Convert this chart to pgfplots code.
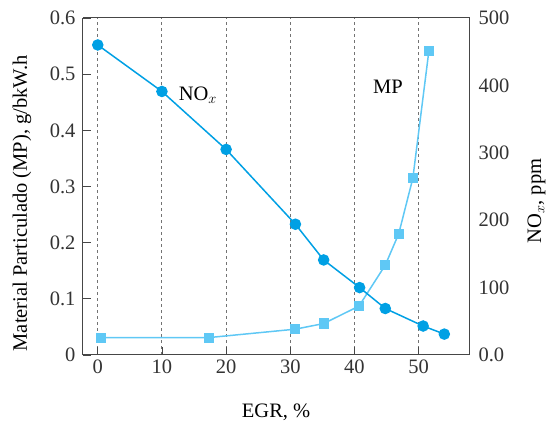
\documentclass[border=0pt]{standalone}
\usepackage{pgfplots}
\pgfplotsset{compat=1.18}
\usepackage{fontspec}
\setmainfont{Liberation Serif}
\definecolor{noxblue}{RGB}{0,160,228}
\definecolor{mpblue}{RGB}{95,200,245}
\definecolor{axgray}{RGB}{70,70,70}
\newcommand\bigfont{\fontsize{20.5}{24}\selectfont}
\begin{document}
\begin{tikzpicture}
% page = 550 x 425, axis box 387 x 337 at (83,18) from top-left
\useasboundingbox (-83pt,-70pt) rectangle (467pt,355pt);
\pgfplotsset{
  every axis/.append style={
    scale only axis, width=387pt, height=337pt,
    xmin=-2.3, xmax=58,
    axis line style={axgray, line width=1pt},
    tick style={axgray, line width=0.8pt},
    tick align=inside,
    major tick length=8pt,
    /pgf/number format/assume math mode=true,
    tick label style={font=\bigfont, text=black!80},
    label style={font=\bigfont},
  },
}
\begin{axis}[
  at={(0,0)},
  axis y line*=left, axis x line*=bottom,
  ymin=0, ymax=0.6,
  ytick={0,0.1,0.2,0.3,0.4,0.5,0.6},
  yticklabels={0,0.1,0.2,0.3,0.4,0.5,0.6},
  xtick={0,10,20,30,40,50},
  xmajorgrids=true,
  grid style={dash pattern=on 3pt off 3pt, black!55, line width=1.1pt},
  yticklabel style={anchor=east, xshift=-4pt},
  xticklabel style={anchor=center, yshift=-12pt},
  xlabel={EGR, \%},
  ylabel={Material Particulado (MP), g/bkW.h},
  xlabel style={at={(axis description cs:0.499,-0.169)}, anchor=center},
  ylabel style={at={(axis description cs:-0.158,0.45)}, anchor=center, rotate=0},
]
\addplot[mpblue, line width=1.5pt, mark=square*, mark size=4.3pt, mark options={solid, fill=mpblue, draw=mpblue}]
  coordinates {(0.5,0.031)(17.3,0.031)(30.8,0.046)(35.2,0.056)(40.7,0.087)(44.8,0.160)(46.9,0.216)(49.1,0.315)(51.6,0.542)};
\node[font=\bigfont] at (axis cs:15.6,0.462) {NO$_x$};
\node[font=\bigfont] at (axis cs:45.2,0.478) {MP};
\end{axis}
\begin{axis}[
  at={(0,0)},
  axis y line*=right, axis x line=none,
  ymin=0, ymax=500,
  ytick={0,100,200,300,400,500},
  yticklabels={0.0,100,200,300,400,500},
  major tick length=0pt,
  yticklabel style={anchor=west, xshift=5pt},
  ylabel={NO$_x$, ppm},
  ylabel style={at={(axis description cs:1.172,0.457)}, anchor=center, rotate=0},
]
\draw[axgray, line width=1pt] (rel axis cs:0,1) -- (rel axis cs:1,1) -- (rel axis cs:1,0);
\addplot[noxblue, line width=1.5pt, mark=*, mark size=5pt, mark options={solid, fill=noxblue, draw=noxblue}]
  coordinates {(0,460)(10,391)(20,305)(30.8,194)(35.2,141)(40.8,100)(44.8,69)(50.7,43)(54.0,31)};
\end{axis}
\end{tikzpicture}
\end{document}
